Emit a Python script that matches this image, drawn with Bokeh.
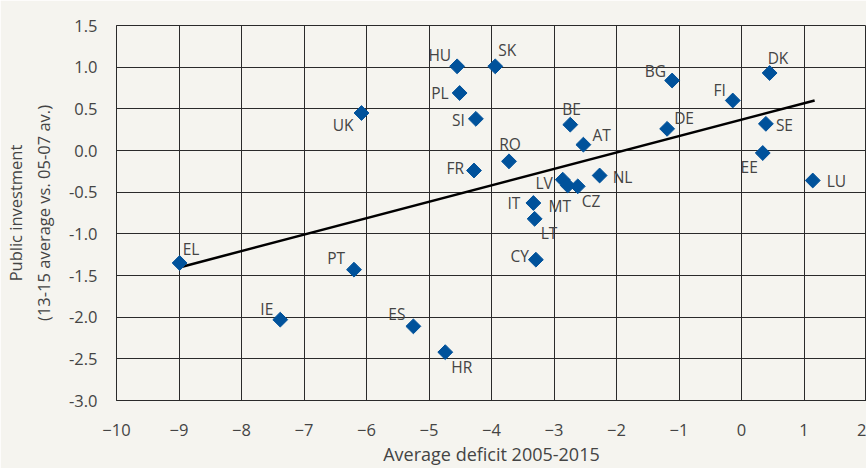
import numpy as np
from bokeh.plotting import figure
from bokeh.models import ColumnDataSource, FixedTicker, NumeralTickFormatter, Range1d
from bokeh.core.properties import value
from bokeh.embed import file_html
from bokeh.resources import INLINE

# ---- data ----
countries = ["HU", "SK", "PL", "UK", "SI", "BE", "RO", "FR", "LV", "MT", "CZ", "IT", "LT", "CY",
             "BG", "DK", "FI", "DE", "SE", "AT", "EE", "NL", "LU", "EL", "IE", "PT", "ES", "HR"]
deficit = [-4.55, -3.94, -4.51, -6.08, -4.25, -2.74, -3.72, -4.28, -2.86, -2.78, -2.62, -3.33, -3.31, -3.29,
           -1.11, 0.45, -0.14, -1.19, 0.39, -2.53, 0.34, -2.27, 1.14, -8.99, -7.38, -6.20, -5.25, -4.74]
investment = [1.01, 1.01, 0.69, 0.45, 0.38, 0.31, -0.13, -0.24, -0.35, -0.42, -0.43, -0.63, -0.82, -1.31,
              0.84, 0.93, 0.60, 0.26, 0.32, 0.07, -0.03, -0.30, -0.36, -1.35, -2.03, -1.43, -2.11, -2.42]
trend_x = [-8.98, 1.17]
trend_y = [-1.40, 0.60]
x_ticks = [-10, -9, -8, -7, -6, -5, -4, -3, -2, -1, 0, 1, 2]
y_ticks = [-3.0, -2.5, -2.0, -1.5, -1.0, -0.5, 0.0, 0.5, 1.0, 1.5]
x_title = "Average deficit 2005-2015"
y_title = "Public investment\n(13-15 average vs. 05-07 av.)"

# ---- label placement (screen px: dx, dy, align) ----
label_layout = {
    "HU": (-6, -11, "right"), "SK": (3, -16, "left"), "PL": (-11, 0, "right"),
    "UK": (-8, 12, "right"), "SI": (-11, 1, "right"), "BE": (-8, -16, "left"),
    "RO": (1, -17, "center"), "FR": (-10, -3, "right"), "LV": (-10, 3, "right"),
    "MT": (-8, 20, "center"), "CZ": (4, 15, "left"), "IT": (-13, 0, "right"),
    "LT": (6, 14, "left"), "CY": (-7, -4, "right"), "BG": (-6, -10, "right"),
    "DK": (-2, -15, "left"), "FI": (-7, -11, "right"), "DE": (7, -11, "left"),
    "SE": (10, 1, "left"), "AT": (9, -10, "left"), "EE": (-5, 14, "right"),
    "NL": (13, 1, "left"), "LU": (14, 0, "left"), "EL": (3, -14, "left"),
    "IE": (-7, -11, "right"), "PT": (-9, -12, "right"), "ES": (-8, -12, "right"),
    "HR": (6, 15, "left"),
}

BG = "#f5f4ef"
TXT = "#444444"
GRID = "#2a2a2a"
FONT = "Open Sans"

p = figure(width=866, height=468, output_backend="svg", toolbar_location=None,
           x_range=Range1d(-10, 2), y_range=Range1d(-3.0, 1.5),
           min_border_left=116, min_border_right=0, min_border_top=25, min_border_bottom=60)
p.background_fill_color = BG
p.border_fill_color = BG
p.outline_line_color = GRID
p.outline_line_width = 1

p.xaxis.ticker = FixedTicker(ticks=x_ticks)
p.yaxis.ticker = FixedTicker(ticks=y_ticks)
p.yaxis.formatter = NumeralTickFormatter(format="0.0")
for ax in (p.xaxis[0], p.yaxis[0]):
    ax.major_tick_line_color = None
    ax.minor_tick_line_color = None
    ax.axis_line_color = GRID
    ax.major_label_text_font = FONT
    ax.major_label_text_font_size = "16.5px"
    ax.major_label_text_color = TXT
    ax.axis_label_text_font = FONT
    ax.axis_label_text_font_style = "normal"
    ax.axis_label_text_color = TXT
p.xaxis.major_label_standoff = 17
p.yaxis.major_label_standoff = 13
p.xaxis.axis_label = x_title
p.xaxis.axis_label_text_font_size = "18px"
p.xaxis.axis_label_standoff = 3
p.yaxis.axis_label = y_title
p.yaxis.axis_label_text_font_size = "16.5px"
p.yaxis.axis_label_text_line_height = 1.2
p.yaxis.axis_label_standoff = 11

p.xgrid.ticker = FixedTicker(ticks=x_ticks)
p.ygrid.ticker = FixedTicker(ticks=y_ticks)
p.grid.grid_line_color = GRID
p.grid.grid_line_width = 1

p.line(trend_x, trend_y, line_color="black", line_width=2.5)

src = ColumnDataSource(dict(
    x=deficit, y=investment, name=countries,
    dx=[label_layout[c][0] for c in countries],
    dy=[label_layout[c][1] for c in countries],
    align=[label_layout[c][2] for c in countries],
))
p.scatter("x", "y", source=src, marker="square", size=10.5, angle=np.pi / 4,
          fill_color="#00529b", line_color="#00529b")
p.text("x", "y", text="name", source=src, x_offset="dx", y_offset="dy",
       text_align="align", text_baseline="middle", text_font=value(FONT),
       text_font_size="15.5px", text_color=TXT)

open("out.html", "w").write(file_html(p, INLINE))
